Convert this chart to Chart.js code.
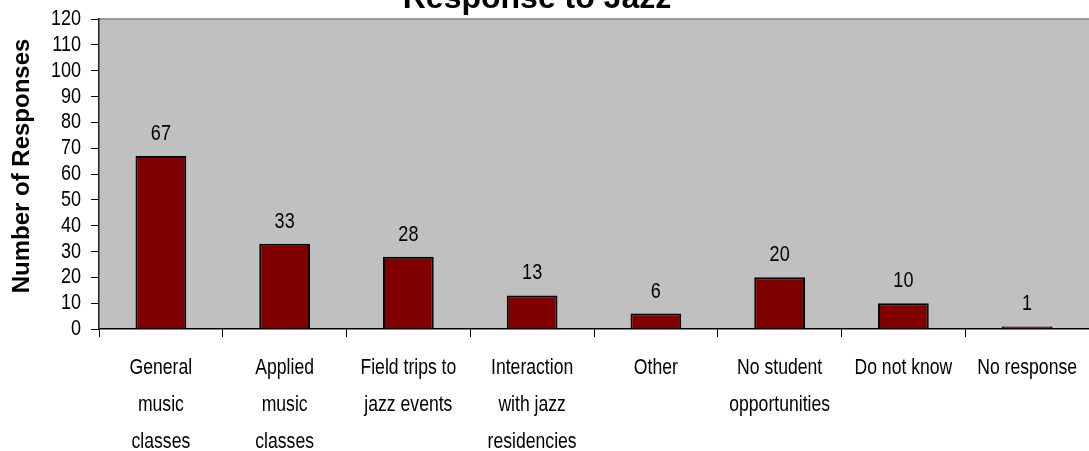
<!DOCTYPE html>
<html>
<head>
<meta charset="utf-8">
<script src="https://cdn.jsdelivr.net/npm/chart.js@4/dist/chart.umd.min.js"></script>
<style>
html,body{margin:0;padding:0;background:#fff;}
#wrap{width:1089px;height:451px;position:relative;}
</style>
</head>
<body>
<div id="wrap"><canvas id="c" width="1089" height="451"></canvas></div>
<script>
const chartTitle = "Response to Jazz";
const yAxisTitle = "Number of Responses";
const categories = [
  ["General", "music", "classes"],
  ["Applied", "music", "classes"],
  ["Field trips to", "jazz events"],
  ["Interaction", "with jazz", "residencies"],
  ["Other"],
  ["No student", "opportunities"],
  ["Do not know"],
  ["No response"]
];
const responses = [67, 33, 28, 13, 6, 20, 10, 1];
const yMin = 0, yMax = 120, yStep = 10;

const sans = "'Liberation Sans', Arial, sans-serif";

function narrowText(ctx, text, x, y, size, align, squeeze) {
  ctx.save();
  ctx.translate(x, y);
  ctx.scale(squeeze, 1);
  ctx.font = size + "px " + sans;
  ctx.textAlign = align;
  ctx.textBaseline = 'middle';
  ctx.fillStyle = '#000';
  ctx.fillText(text, 0, 0);
  ctx.restore();
}

const plotPlugin = {
  id: 'plotBg',
  beforeDraw(chart) {
    const {ctx, chartArea: a} = chart;
    ctx.save();
    ctx.fillStyle = '#C0C0C0';
    ctx.fillRect(a.left, a.top, a.right - a.left, a.bottom - a.top);
    ctx.strokeStyle = '#808080';
    ctx.lineWidth = 1.5;
    ctx.beginPath();
    ctx.moveTo(a.left, a.top);
    ctx.lineTo(a.right, a.top);
    ctx.stroke();
    ctx.restore();
  },
  afterDraw(chart) {
    const {ctx} = chart;
    ctx.save();
    ctx.fillStyle = '#000';
    ctx.font = "bold 32px " + sans;
    ctx.textAlign = 'center';
    ctx.textBaseline = 'alphabetic';
    ctx.fillText(chartTitle, 537, 8);
    // y axis title
    ctx.translate(22, 166);
    ctx.rotate(-Math.PI / 2);
    ctx.font = "bold 24px " + sans;
    ctx.textBaseline = 'middle';
    ctx.fillText(yAxisTitle, 0, 0);
    ctx.restore();

    // y tick labels
    const ys = chart.scales.y;
    ys.ticks.forEach(t => {
      narrowText(ctx, String(t.value), 81, ys.getPixelForValue(t.value), 22, 'right', 0.82);
    });
    // x tick labels
    const xs = chart.scales.x;
    chart.data.labels.forEach((lab, i) => {
      const x = xs.getPixelForTick(i);
      const lines = Array.isArray(lab) ? lab : [lab];
      lines.forEach((ln, j) => {
        narrowText(ctx, ln, x, 368 + j * 37, 22, 'center', 0.8);
      });
    });
    // data labels
    const meta = chart.getDatasetMeta(0);
    meta.data.forEach((bar, i) => {
      narrowText(ctx, String(chart.data.datasets[0].data[i]), bar.x, bar.y - 22, 22, 'center', 0.82);
    });
  }
};

new Chart(document.getElementById('c'), {
  type: 'bar',
  data: {
    labels: categories,
    datasets: [{
      data: responses,
      backgroundColor: '#800000',
      borderColor: '#000000',
      borderWidth: 2,
      borderSkipped: 'bottom',
      barPercentage: 0.41,
      categoryPercentage: 1.0
    }]
  },
  options: {
    responsive: false,
    animation: false,
    devicePixelRatio: 1,
    layout: {padding: {top: 19, right: 0, bottom: 0, left: 0}},
    plugins: {legend: {display: false}, title: {display: false}, tooltip: {enabled: false}},
    scales: {
      x: {
        grid: {display: true, drawOnChartArea: false, offset: true, color: '#000', tickLength: 8, tickColor: '#000'},
        border: {display: true, color: '#000', width: 1.5},
        ticks: {display: false, autoSkip: false, maxRotation: 0},
        afterFit(scale) { scale.height = 451 - 329; }
      },
      y: {
        min: yMin, max: yMax,
        grid: {display: true, drawOnChartArea: false, color: '#000', tickLength: 8, tickColor: '#000'},
        border: {display: true, color: '#202020', width: 1.5},
        ticks: {stepSize: yStep, display: false},
        title: {display: false},
        afterFit(scale) { scale.width = 99; }
      }
    }
  },
  plugins: [plotPlugin]
});
</script>
</body>
</html>
